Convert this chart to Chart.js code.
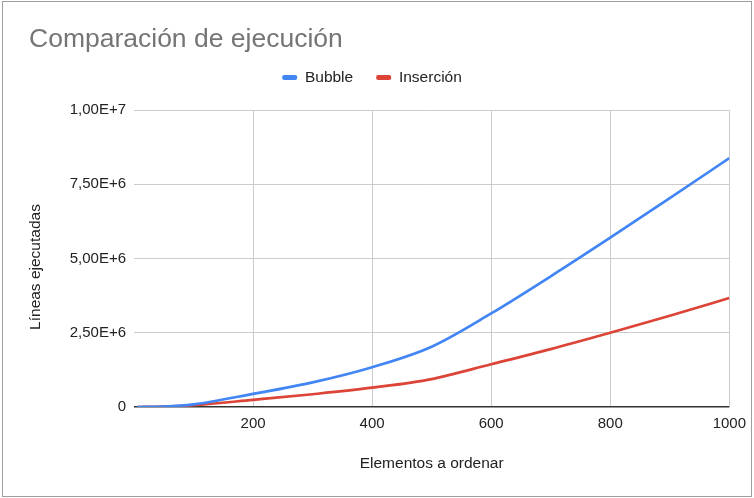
<!DOCTYPE html>
<html>
<head>
<meta charset="utf-8">
<script src="https://cdn.jsdelivr.net/npm/chart.js@4.4.1/dist/chart.umd.min.js"></script>
<style>
  body { margin: 0; background: #fff; }
  #caja { position: relative; width: 754px; height: 498px; overflow: hidden; }
  #grafico { position: absolute; left: 0; top: 0; }
  #marco { position: absolute; left: 2px; top: 1px; width: 750px; height: 496px; box-sizing: border-box; border: 1px solid #9e9e9e; pointer-events: none; }
  #titulo { position: absolute; left: 29px; top: 25px; font: 26.5px "Liberation Sans", Arial, sans-serif; line-height: 26px; color: #757575; white-space: nowrap; }
  #tituloY { position: absolute; left: 35px; top: 267px; width: 0; height: 0; }
  #tituloY span { position: absolute; left: 0; top: 0; transform: translate(-50%, -50%) rotate(-90deg); font: 15.5px "Liberation Sans", Arial, sans-serif; line-height: 18px; color: #222; white-space: nowrap; }
</style>
</head>
<body>
<div id="caja">
  <canvas id="grafico" width="754" height="498"></canvas>
  <div id="titulo">Comparación de ejecución</div>
  <div id="tituloY"><span>Líneas ejecutadas</span></div>
  <div id="marco"></div>
</div>
<script>
// datos
const elementos = [5, 50, 100, 200, 300, 400, 500, 600, 700, 800, 900, 1000];
const bubble    = [0, 15000, 90000, 440000, 830000, 1340000, 2030000, 3150000, 4400000, 5700000, 7030000, 8380000];
const insercion = [0, 10000, 60000, 240000, 430000, 650000, 940000, 1440000, 1950000, 2500000, 3070000, 3670000];
const ticksY = [0, 2500000, 5000000, 7500000, 10000000];
const ticksX = [200, 400, 600, 800, 1000];

const fuente = '"Liberation Sans", Arial, sans-serif';

function puntos(ys) {
  return elementos.map((x, i) => ({ x: x, y: ys[i] }));
}

function formatoE(v) {
  if (v === 0) return '0';
  return v.toExponential(2).replace('.', ',').replace('e', 'E');
}

// espacio extra bajo la leyenda
const margenLeyenda = {
  id: 'margenLeyenda',
  beforeInit(chart) {
    const fit = chart.legend.fit;
    chart.legend.fit = function () {
      fit.bind(chart.legend)();
      this.height += 14.75;
    };
  }
};

const ctx = document.getElementById('grafico').getContext('2d');

new Chart(ctx, {
  type: 'line',
  data: {
    datasets: [{
      label: 'Bubble',
      data: puntos(bubble),
      borderColor: '#4285F4',
      backgroundColor: '#4285F4',
      borderWidth: 2.7,
      pointRadius: 0,
      cubicInterpolationMode: 'monotone'
    }, {
      label: 'Inserción',
      data: puntos(insercion),
      borderColor: '#DB4437',
      backgroundColor: '#DB4437',
      borderWidth: 2.7,
      pointRadius: 0,
      cubicInterpolationMode: 'monotone'
    }]
  },
  options: {
    responsive: false,
    animation: false,
    layout: { padding: { left: 0, right: 10, top: 46.75, bottom: 0 } },
    plugins: {
      tooltip: { enabled: false },
      title: { display: false },
      legend: {
        position: 'top',
        labels: {
          color: '#222',
          font: { family: fuente, size: 15.5 },
          boxWidth: 15,
          boxHeight: 5,
          padding: 23,
          useBorderRadius: true,
          borderRadius: 2,
          generateLabels: chart => Chart.defaults.plugins.legend.labels.generateLabels(chart)
            .map(l => ({ ...l, lineWidth: 0, fillStyle: l.strokeStyle }))
        }
      }
    },
    scales: {
      x: {
        type: 'linear',
        min: 0,
        max: 1000,
        afterBuildTicks: s => { s.ticks = [0].concat(ticksX).map(v => ({ value: v })); },
        afterFit: s => { s.height = 91; },
        border: { display: false },
        grid: {
          drawTicks: false,
          color: c => c.tick && c.tick.value === 0 ? 'rgba(0,0,0,0)' : '#cccccc',
          lineWidth: 1
        },
        ticks: {
          color: '#222',
          font: { family: fuente, size: 15 },
          padding: 8,
          maxRotation: 0,
          callback: v => v === 0 ? '' : String(v)
        },
        title: {
          display: true,
          text: 'Elementos a ordenar',
          color: '#222',
          font: { family: fuente, size: 15.5 },
          padding: { top: 0, bottom: 24.7 }
        }
      },
      y: {
        min: 0,
        max: 10000000,
        afterBuildTicks: s => { s.ticks = ticksY.map(v => ({ value: v })); },
        afterFit: s => { s.width = 134; },
        border: { display: false },
        grid: {
          drawTicks: false,
          color: c => c.tick && c.tick.value === 0 ? '#333333' : '#cccccc',
          lineWidth: c => c.tick && c.tick.value === 0 ? 1.6 : 1
        },
        ticks: {
          color: '#222',
          font: { family: fuente, size: 15 },
          padding: 8,
          callback: v => formatoE(v)
        }
      }
    }
  },
  plugins: [margenLeyenda]
});
</script>
</body>
</html>
